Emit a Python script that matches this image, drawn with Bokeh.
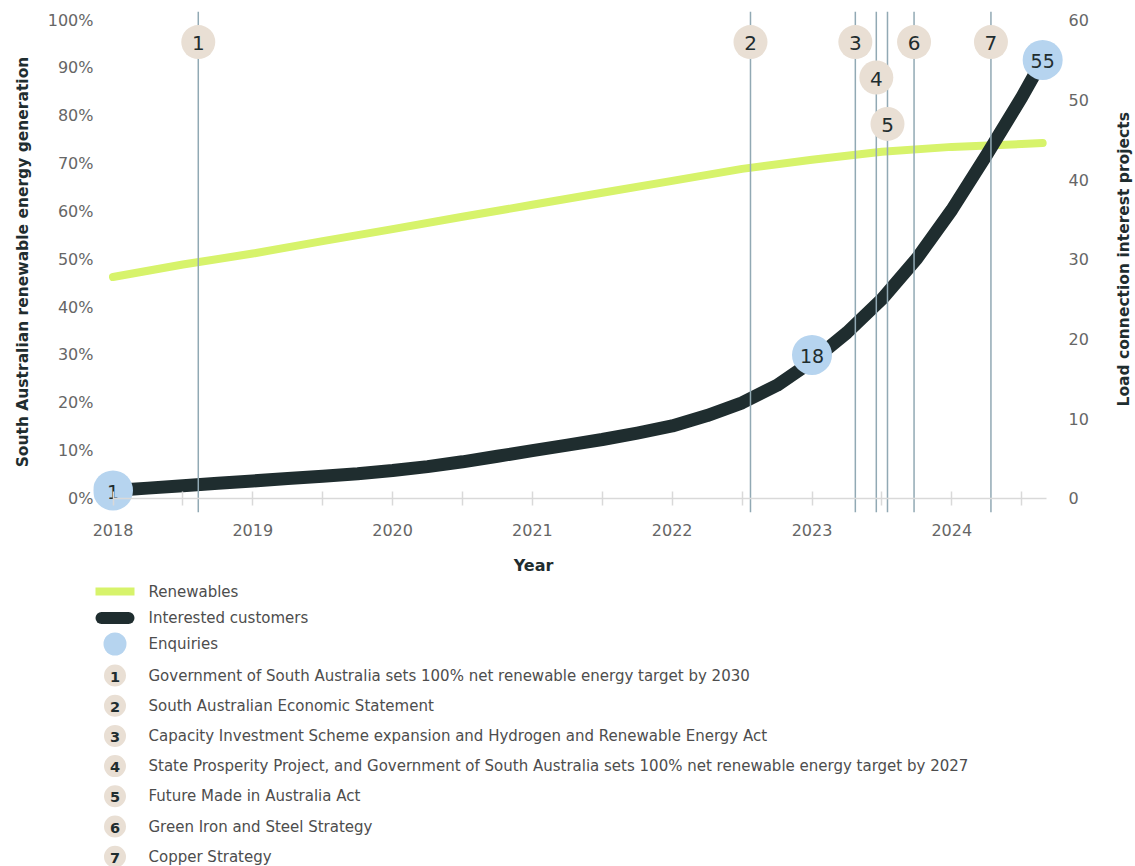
import math

from bokeh.core.properties import value
from bokeh.embed import file_html
from bokeh.layouts import column
from bokeh.models import FixedTicker, LinearAxis, PrintfTickFormatter, Range1d
from bokeh.plotting import figure
from bokeh.resources import INLINE

# ---------------------------------------------------------------- data
renewables_years = [2018.0, 2018.5, 2019.0, 2019.5, 2020.0, 2020.5, 2021.0,
                    2021.5, 2022.0, 2022.5, 2023.0, 2023.5, 2024.0, 2024.5, 2024.65]
renewables_pct = [46.3, 48.9, 51.2, 53.8, 56.3, 58.9, 61.4,
                  63.9, 66.4, 68.9, 70.8, 72.5, 73.5, 74.1, 74.3]

customer_years = [2018.0, 2018.25, 2018.5, 2018.75, 2019.0, 2019.25, 2019.5,
                  2019.75, 2020.0, 2020.25, 2020.5, 2020.75, 2021.0, 2021.25,
                  2021.5, 2021.75, 2022.0, 2022.25, 2022.5, 2022.75, 2023.0,
                  2023.25, 2023.5, 2023.75, 2024.0, 2024.25, 2024.5, 2024.65]
interested_customers = [1.0, 1.3, 1.6, 1.9, 2.2, 2.5, 2.8,
                        3.1, 3.5, 4.0, 4.6, 5.3, 6.0, 6.7,
                        7.4, 8.2, 9.1, 10.4, 12.0, 14.2, 17.2,
                        20.8, 25.0, 30.1, 36.2, 43.1, 50.3, 55.0]

enquiry_years = [2018.0, 2023.0, 2024.65]
enquiries = [1, 18, 55]

event_numbers = ["1", "2", "3", "4", "5", "6", "7"]
event_years = [2018.61, 2022.56, 2023.31, 2023.46, 2023.54, 2023.73, 2024.28]
event_labels = [
    "Government of South Australia sets 100% net renewable energy target by 2030",
    "South Australian Economic Statement",
    "Capacity Investment Scheme expansion and Hydrogen and Renewable Energy Act",
    "State Prosperity Project, and Government of South Australia sets 100% net renewable energy target by 2027",
    "Future Made in Australia Act",
    "Green Iron and Steel Strategy",
    "Copper Strategy",
]

year_ticks = [2018, 2019, 2020, 2021, 2022, 2023, 2024]
half_year_ticks = [2018.5, 2019.5, 2020.5, 2021.5, 2022.5, 2023.5, 2024.5]
pct_ticks = [0, 10, 20, 30, 40, 50, 60, 70, 80, 90, 100]
project_ticks = [0, 10, 20, 30, 40, 50, 60]

# ---------------------------------------------------------------- style
FONT = "DejaVu Sans"
GREEN = "#d7f36b"
DARK = "#1f2d2f"
BLUE = "#b6d4ef"
BEIGE = "#e9dfd4"
EVENT_LINE = "#91a9b4"
AXIS_GREY = "#d9d9d9"
TICK_TEXT = "#666666"
LEGEND_TEXT = "#4d4d4d"

W, H = 1135, 866
LEFT, TOP = 93, 11                 # frame offsets in pixels
MAIN_H = 545                       # height of the chart panel; the key fills the rest
FRAME_BOTTOM = 512
PX_PER_YEAR = 139.8
X0 = 2018 - (112.5 - LEFT) / PX_PER_YEAR
X1 = X0 + (W - LEFT) / PX_PER_YEAR
Y_LO, Y_HI = -2.93, 101.8          # percent scale
SCALE = 0.6                        # 100 % on the left equals 60 projects on the right


def px_to_year(px):
    return X0 + (px - LEFT) / PX_PER_YEAR


p = figure(
    width=W, height=MAIN_H,
    x_range=Range1d(X0, X1),
    y_range=Range1d(Y_LO, Y_HI),
    output_backend="svg", toolbar_location=None,
    min_border_left=LEFT, min_border_right=0,
    min_border_top=TOP, min_border_bottom=MAIN_H - FRAME_BOTTOM,
    outline_line_color=None,
)
p.grid.visible = False
p.extra_y_ranges = {"projects": Range1d(Y_LO * SCALE, Y_HI * SCALE)}

# year labels along the bottom edge
xa = p.xaxis[0]
xa.ticker = FixedTicker(ticks=year_ticks)
xa.axis_line_color = None
xa.major_tick_line_color = None
xa.minor_tick_line_color = None
xa.major_tick_out = 0
xa.major_tick_in = 0
xa.major_label_standoff = 11
xa.major_label_text_font = FONT
xa.major_label_text_font_size = "16px"
xa.major_label_text_color = TICK_TEXT

# baseline rule with half-year ticks at zero
xb = LinearAxis(fixed_location=0, bounds=(2018, 2024.68),
                ticker=FixedTicker(ticks=year_ticks, minor_ticks=half_year_ticks))
xb.axis_line_color = AXIS_GREY
xb.axis_line_width = 1.5
xb.major_tick_line_color = AXIS_GREY
xb.minor_tick_line_color = AXIS_GREY
xb.major_tick_line_width = 1.5
xb.minor_tick_line_width = 1.5
xb.major_tick_in = 7
xb.major_tick_out = 7
xb.minor_tick_in = 7
xb.minor_tick_out = 7
xb.major_label_text_color = None
xb.major_label_text_font_size = "1px"
p.add_layout(xb, "below")

ya = p.yaxis[0]
ya.ticker = FixedTicker(ticks=pct_ticks)
ya.formatter = PrintfTickFormatter(format="%d%%")
ya.axis_line_color = None
ya.major_tick_line_color = None
ya.minor_tick_line_color = None
ya.major_tick_out = 0
ya.major_label_standoff = 0
ya.major_label_text_font = FONT
ya.major_label_text_font_size = "16px"
ya.major_label_text_color = TICK_TEXT
ya.axis_label = "South Australian renewable energy generation"
ya.axis_label_standoff = 13
ya.axis_label_text_font = FONT
ya.axis_label_text_font_size = "15.5px"
ya.axis_label_text_font_style = "bold"
ya.axis_label_text_color = DARK

# project count scale, pinned just right of the data area
ra = LinearAxis(y_range_name="projects", fixed_location=px_to_year(1061),
                ticker=FixedTicker(ticks=project_ticks))
ra.axis_line_color = None
ra.major_tick_line_color = None
ra.minor_tick_line_color = None
ra.major_tick_out = 0
ra.major_tick_in = 0
ra.major_label_standoff = 7
ra.major_label_text_font = FONT
ra.major_label_text_font_size = "16px"
ra.major_label_text_color = TICK_TEXT
p.add_layout(ra, "right")

# right-hand title, reading upwards
p.text(x=[px_to_year(1123)], y=[50], text=["Load connection interest projects"],
       angle=math.pi / 2, text_align="center", text_baseline="middle",
       text_font=value(FONT), text_font_size=value("15.5px"), text_font_style="bold",
       text_color=DARK)

# series
p.line(renewables_years, renewables_pct, line_color=GREEN, line_width=8,
       line_cap="round", line_join="round")
p.line(customer_years, interested_customers, y_range_name="projects",
       line_color=DARK, line_width=13, line_cap="round", line_join="round")

# policy events: vertical markers with numbered badges
p.segment(x0=event_years, y0=[Y_LO] * len(event_years),
          x1=event_years, y1=[Y_HI] * len(event_years),
          line_color=EVENT_LINE, line_width=1.5)
badge_y = [95.4, 95.4, 95.4, 88.0, 78.3, 95.4, 95.4]
p.scatter(event_years, badge_y, size=34, fill_color=BEIGE, line_color=None)
p.text(event_years, badge_y, text=event_numbers, text_align="center",
       text_baseline="middle", text_font=value(FONT), text_font_size=value("20px"),
       text_color=DARK, y_offset=1)

# enquiry counts
p.scatter(enquiry_years, enquiries, y_range_name="projects", size=40,
          fill_color=BLUE, line_color=None)
p.text(enquiry_years, enquiries, y_range_name="projects",
       text=[str(v) for v in enquiries], text_align="center", text_baseline="middle",
       text_font=value(FONT), text_font_size=value("19px"), text_color=DARK, y_offset=1)

# ---------------------------------------------------------------- key
# the key panel shares the chart's frame edges, so its x range spans those pixels
leg = figure(
    width=W, height=H - MAIN_H,
    x_range=Range1d(LEFT, W), y_range=Range1d(H, MAIN_H),
    x_axis_type=None, y_axis_type=None,
    output_backend="svg", toolbar_location=None,
    min_border=0, min_border_left=LEFT, min_border_right=0,
    outline_line_color=None,
)
leg.grid.visible = False

leg.text([533], [565], text=["Year"], text_align="center", text_baseline="middle",
         text_font=value(FONT), text_font_size=value("16px"), text_font_style="bold",
         text_color=DARK)

KEY_X = 114.5
TEXT_X = 148
row_y = [591, 617.5, 643.5]
badge_rows = [675 + 30.2 * i for i in range(len(event_numbers))]

leg.segment(x0=[95], y0=[row_y[0]], x1=[134], y1=[row_y[0]],
            line_color=GREEN, line_width=8)
leg.segment(x0=[101], y0=[row_y[1]], x1=[128], y1=[row_y[1]],
            line_color=DARK, line_width=12, line_cap="round")
leg.scatter([KEY_X], [row_y[2]], size=23, fill_color=BLUE, line_color=None)
leg.text([TEXT_X] * 3, row_y, text=["Renewables", "Interested customers", "Enquiries"],
         text_baseline="middle", text_font=value(FONT), text_font_size=value("15px"),
         text_color=LEGEND_TEXT)

leg.scatter([KEY_X] * len(event_numbers), badge_rows, size=22,
            fill_color=BEIGE, line_color=None)
leg.text([KEY_X] * len(event_numbers), badge_rows, text=event_numbers,
         text_align="center", text_baseline="middle", text_font=value(FONT),
         text_font_size=value("14.5px"), text_font_style="bold", text_color=DARK, y_offset=1)
leg.text([TEXT_X] * len(event_labels), badge_rows, text=event_labels,
         text_baseline="middle", text_font=value(FONT), text_font_size=value("15px"),
         text_color=LEGEND_TEXT)

layout = column(p, leg, spacing=0)
open("out.html", "w").write(file_html(layout, INLINE))
